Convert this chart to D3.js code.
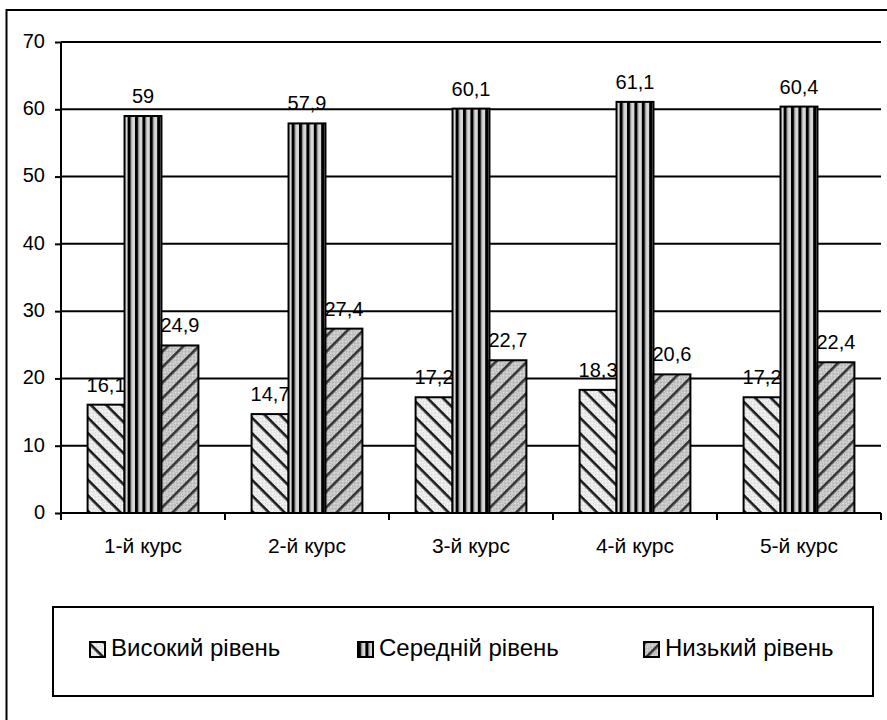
<!DOCTYPE html>
<html lang="uk">
<head>
  <meta charset="UTF-8">
  <title>Рівні за курсами</title>
  <script src="https://cdnjs.cloudflare.com/ajax/libs/d3/7.8.5/d3.min.js"></script>
  <style>
    body { margin: 0; background: #fff; }
    svg { display: block; font-family: "Liberation Sans", Arial, sans-serif; }
    .grid line { stroke: #000; stroke-width: 2px; }
    .lbl { font-size: 20px; fill: #000; }
  </style>
</head>
<body>
  <svg width="887" height="720"></svg>
  <script>
    // дані
    var categories = ["1-й курс", "2-й курс", "3-й курс", "4-й курс", "5-й курс"]
    var seriesNames = ["Високий рівень", "Середній рівень", "Низький рівень"]
    var high = [16.1, 14.7, 17.2, 18.3, 17.2]
    var mid = [59, 57.9, 60.1, 61.1, 60.4]
    var low = [24.9, 27.4, 22.7, 20.6, 22.4]
    var yTicks = [0, 10, 20, 30, 40, 50, 60, 70]

    var seriesValues = [high, mid, low]
    var patternIds = ["pHigh", "pMid", "pLow"]

    var svg = d3.select("svg")
    var fmt = d3.formatLocale({ decimal: ",", thousands: " ", grouping: [3], currency: ["", ""] }).format("~f")

    // візерунки заливки
    var defs = svg.append("defs")

    function dots(id, bg, fg) {
      var p = defs.append("pattern").attr("id", id).attr("patternUnits", "userSpaceOnUse")
        .attr("width", 2).attr("height", 2)
      p.append("rect").attr("width", 2).attr("height", 2).attr("fill", bg)
      p.append("rect").attr("width", 1).attr("height", 1).attr("fill", fg)
      p.append("rect").attr("x", 1).attr("y", 1).attr("width", 1).attr("height", 1).attr("fill", fg)
    }
    dots("dLight", "#fff", "#d4d4d4")
    dots("dGray", "#e4e4e4", "#a8a8a8")
    dots("dMid", "#fff", "#b0b0b0")

    var ph = defs.append("pattern").attr("id", "pHigh").attr("patternUnits", "userSpaceOnUse")
      .attr("width", 11).attr("height", 11).attr("patternTransform", "rotate(45)")
    ph.append("rect").attr("width", 11).attr("height", 11).attr("fill", "url(#dLight)")
    ph.append("rect").attr("width", 11).attr("height", 2.6).attr("fill", "#1a1a1a")

    var pm = defs.append("pattern").attr("id", "pMid").attr("patternUnits", "userSpaceOnUse")
      .attr("width", 7.4).attr("height", 4)
    pm.append("rect").attr("width", 7.4).attr("height", 4).attr("fill", "url(#dMid)")
    pm.append("rect").attr("x", 0).attr("width", 3).attr("height", 4).attr("fill", "#000")
    pm.append("rect").attr("x", 3).attr("width", 1).attr("height", 4).attr("fill", "#777")

    var pl = defs.append("pattern").attr("id", "pLow").attr("patternUnits", "userSpaceOnUse")
      .attr("width", 11).attr("height", 11).attr("patternTransform", "rotate(-45)")
    pl.append("rect").attr("width", 11).attr("height", 11).attr("fill", "url(#dGray)")
    pl.append("rect").attr("width", 11).attr("height", 2.6).attr("fill", "#333")

    // рамка
    svg.append("rect").attr("x", 6.5).attr("y", 10).attr("width", 900).attr("height", 740)
      .attr("fill", "none").attr("stroke", "#000").attr("stroke-width", 2)

    // шкали
    var x0 = d3.scaleBand().domain(categories).range([61, 881]).padding(0)
    var x1 = d3.scaleBand().domain(d3.range(seriesNames.length)).range([0, x0.bandwidth()])
      .paddingInner(0).paddingOuter(0.72)
    var y = d3.scaleLinear().domain([0, 70]).range([513, 42])

    // сітка
    svg.append("g").attr("class", "grid")
      .selectAll("line").data(yTicks.filter(d => d > 0)).join("line")
      .attr("x1", 61).attr("x2", 881).attr("y1", d => y(d)).attr("y2", d => y(d))

    // вісь Y
    var yAxis = svg.append("g").attr("transform", "translate(61,0)")
      .call(d3.axisLeft(y).tickValues(yTicks).tickSize(6).tickPadding(10).tickFormat(d3.format("d")))
    yAxis.select(".domain").attr("stroke-width", 2).attr("d", "M0," + y(0) + "V" + y(70))
    yAxis.selectAll(".tick line").attr("stroke-width", 2)
    yAxis.selectAll("text").attr("class", "lbl").attr("font-size", null).attr("font-family", null)
      .attr("dy", "0.27em")

    // підписи значень (під стовпцями, як у оригіналі)
    var groups = svg.append("g").selectAll("g").data(categories).join("g")
      .attr("transform", d => "translate(" + x0(d) + ",0)")

    groups.selectAll("text").data((d, i) => seriesValues.map((s, k) => ({ k: k, v: s[i] }))).join("text")
      .attr("class", "lbl")
      .attr("x", d => x1(d.k) + x1.bandwidth() / 2)
      .attr("y", d => y(d.v) - 13)
      .attr("text-anchor", "middle")
      .text(d => fmt(d.v))

    // стовпці
    groups.selectAll("rect").data((d, i) => seriesValues.map((s, k) => ({ k: k, v: s[i] }))).join("rect")
      .attr("x", d => x1(d.k))
      .attr("y", d => y(d.v))
      .attr("width", x1.bandwidth())
      .attr("height", d => y(0) - y(d.v))
      .attr("fill", d => "url(#" + patternIds[d.k] + ")")
      .attr("stroke", "#000").attr("stroke-width", 2)

    // вісь X
    var xAxis = svg.append("g").attr("transform", "translate(0," + y(0) + ")")
    xAxis.append("line").attr("x1", 61).attr("x2", 881).attr("stroke", "#000").attr("stroke-width", 2)
    xAxis.selectAll(".tk").data(d3.range(categories.length + 1)).join("line")
      .attr("x1", i => 61 + i * x0.step()).attr("x2", i => 61 + i * x0.step())
      .attr("y1", 0).attr("y2", 7).attr("stroke", "#000").attr("stroke-width", 2)
    xAxis.selectAll("text").data(categories).join("text")
      .attr("class", "lbl")
      .style("font-size", "21px")
      .attr("x", d => x0(d) + x0.bandwidth() / 2)
      .attr("y", 40)
      .attr("text-anchor", "middle")
      .text(d => d)

    // легенда
    var legend = svg.append("g")
    legend.append("rect").attr("x", 53).attr("y", 607).attr("width", 820).attr("height", 89)
      .attr("fill", "#fff").attr("stroke", "#000").attr("stroke-width", 2)
    var legendX = [90, 358, 644]
    var items = legend.selectAll(".item").data(seriesNames).join("g")
      .attr("transform", (d, i) => "translate(" + legendX[i] + ",642)")
    items.append("rect").attr("width", 15).attr("height", 15)
      .attr("fill", (d, i) => "url(#" + patternIds[i] + ")")
      .attr("stroke", "#000").attr("stroke-width", 2)
    items.append("text").attr("x", 21).attr("y", 14)
      .style("font-size", "24px")
      .text(d => d)
  </script>
</body>
</html>
